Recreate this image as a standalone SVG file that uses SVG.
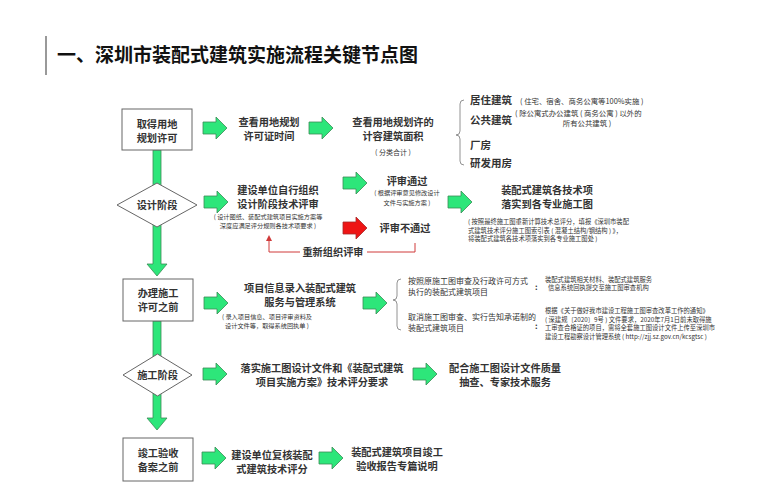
<svg xmlns="http://www.w3.org/2000/svg" xmlns:xlink="http://www.w3.org/1999/xlink" width="780" height="502" viewBox="0 0 780 502">
<style>
text{font-family:"Noto Sans CJK SC","Liberation Sans",sans-serif;fill:#333}
.t{font-size:10.2px;font-weight:bold;text-anchor:middle}
.tl{font-size:10.5px;font-weight:bold}
.s{font-size:6.2px;text-anchor:middle}
.sl{font-size:6.3px}
.m{font-size:8px}
.box{fill:#fff;stroke:#666;stroke-width:1}
.ga{fill:#2de67a;stroke:#3a8c55;stroke-width:0.8}
.ra{fill:#ee1515;stroke:#a52a2a;stroke-width:0.8}
.br{fill:none;stroke:#777;stroke-width:0.8}
</style>
<defs>
<path id="arr" d="M0,-6 H13 V-11 L24,0 L13,11 V6 H0 Z"/>
<marker id="rh" markerWidth="6" markerHeight="6" refX="3" refY="3" orient="auto" markerUnits="userSpaceOnUse">
<path d="M0,0 L6,3 L0,6 Z" fill="#d03a3a"/>
</marker>
</defs>
<rect width="780" height="502" fill="#fff"/>
<g id="title">
<line x1="46" y1="36" x2="46" y2="75" stroke="#555" stroke-width="1.2"/>
<text x="57" y="62" style="font-size:19px;font-weight:bold;fill:#111">一、深圳市装配式建筑实施流程关键节点图</text>
</g>
<g id="connectors">
<path class="ga" d="M153,150 H161 V264 H167 L157,276 L147,264 H153 Z"/>
<path class="ga" d="M153,321 H161 V418 H167 L157,430 L147,418 H153 Z"/>
<use href="#arr" class="ga" transform="translate(203,128)"/>
<use href="#arr" class="ga" transform="translate(309,128)"/>
<use href="#arr" class="ga" transform="translate(204,202)"/>
<use href="#arr" class="ga" transform="translate(343,183)"/>
<use href="#arr" class="ra" transform="translate(343,228)"/>
<use href="#arr" class="ga" transform="translate(448,202)"/>
<use href="#arr" class="ga" transform="translate(204,303)"/>
<use href="#arr" class="ga" transform="translate(363,303)"/>
<use href="#arr" class="ga" transform="translate(203,374)"/>
<use href="#arr" class="ga" transform="translate(413,374)"/>
<use href="#arr" class="ga" transform="translate(202,458)"/>
<use href="#arr" class="ga" transform="translate(319,458)"/>
<path d="M415,243 V252 H367 M300,252 H269 V238" fill="none" stroke="#d03a3a" stroke-width="1" marker-end="url(#rh)"/>
<text class="t" x="333" y="256">重新组织评审</text>
<path class="br" d="M464,100 Q460,100 460,104 V131 Q460,135 456,135 Q460,135 460,139 V161 Q460,165 464,165"/>
<path class="br" d="M401,279 Q397,279 397,283 V296 Q397,300 393,300 Q397,300 397,304 V326 Q397,330 401,330"/>
</g>
<g id="n1">
<rect class="box" x="122" y="109" width="70" height="41"/>
<text class="t" x="157" y="127.5">取得用地</text>
<text class="t" x="157" y="141.5">规划许可</text>
</g>
<g id="n1a">
<text class="t" x="269" y="125.5">查看用地规划</text>
<text class="t" x="269" y="139.5">许可证时间</text>
</g>
<g id="n1b">
<text class="t" x="393" y="125.5">查看用地规划许的</text>
<text class="t" x="393" y="139.5">计容建筑面积</text>
<text class="s" x="393" y="155" style="font-size:7px">( 分类合计 )</text>
</g>
<g id="n1c">
<text class="tl" x="470" y="104">居住建筑</text>
<text x="520" y="104" style="font-size:7.4px">( 住宅、宿舍、商务公寓等100%实施 )</text>
<text class="tl" x="470" y="124">公共建筑</text>
<text x="515" y="116" style="font-size:7.4px">( 除公寓式办公建筑 ( 商务公寓 ) 以外的</text>
<text x="587" y="126" style="font-size:7.4px;text-anchor:middle">所有公共建筑 )</text>
<text class="tl" x="470" y="149">厂房</text>
<text class="tl" x="470" y="167">研发用房</text>
</g>
<g id="n2">
<path class="box" d="M117,205 L157,183 L197,205 L157,227 Z"/>
<text class="t" x="157" y="209">设计阶段</text>
</g>
<g id="n2a">
<text class="t" x="278" y="193.5">建设单位自行组织</text>
<text class="t" x="278" y="207.5">设计阶段技术评审</text>
<text class="s" x="268" y="219">( 设计图纸、装配式建筑项目实施方案等</text>
<text class="s" x="268" y="227.5">深度应满足评分规则各技术项要求 )</text>
</g>
<g id="n2b">
<text class="t" x="407" y="185">评审通过</text>
<text class="s" x="407" y="195">( 根据评审意见修改设计</text>
<text class="s" x="407" y="204.5">文件与实施方案 )</text>
</g>
<g id="n2c">
<text class="t" x="405" y="232">评审不通过</text>
</g>
<g id="n2d">
<text class="t" x="547" y="193.5">装配式建筑各技术项</text>
<text class="t" x="547" y="207.5">落实到各专业施工图</text>
<text class="sl" x="468" y="224">( 按照最终施工图重新计算技术总评分，填报《深圳市装配</text>
<text class="sl" x="468" y="232.5">式建筑技术评分施工图索引表 ( 混凝土结构/钢结构 ) 》，</text>
<text class="sl" x="468" y="241">将装配式建筑各技术项落实到各专业施工图处 )</text>
</g>
<g id="n3">
<rect class="box" x="123" y="279" width="70" height="42"/>
<text class="t" x="158" y="296.5">办理施工</text>
<text class="t" x="158" y="310.5">许可之前</text>
</g>
<g id="n3a">
<text class="t" x="300" y="291.5">项目信息录入装配式建筑</text>
<text class="t" x="300" y="305.5">服务与管理系统</text>
<text class="s" x="267" y="319">( 录入项目信息、项目评审资料及</text>
<text class="s" x="267" y="328">设计文件等，取得系统回执单 )</text>
</g>
<g id="n3b">
<text class="m" x="408" y="284">按照原施工图审查及行政许可方式</text>
<text class="m" x="408" y="295">执行的装配式建筑项目</text>
<text class="m" x="535" y="290" style="font-weight:bold">:</text>
<text class="sl" x="545" y="281.5">装配式建筑相关材料、装配式建筑服务</text>
<text class="sl" x="548" y="290">信息系统回执提交至施工图审查机构</text>
</g>
<g id="n3c">
<text class="m" x="408" y="320">取消施工图审查、实行告知承诺制的</text>
<text class="m" x="408" y="331">装配式建筑项目</text>
<text class="m" x="535" y="329" style="font-weight:bold">:</text>
<text class="sl" x="545" y="313">根据《关于做好我市建设工程施工图审查改革工作的通知》</text>
<text class="sl" x="545" y="321.5">( 深建规〔2020〕9号 ) 文件要求，2020年7月1日前未取得施</text>
<text class="sl" x="545" y="330">工审查合格证的项目，需将全套施工图设计文件上传至深圳市</text>
<text class="sl" x="545" y="338.5">建设工程勘察设计管理系统 ( http://zjj.sz.gov.cn/kcsgtsc )</text>
</g>
<g id="n4">
<path class="box" d="M123,375 L157.5,354 L192,375 L157.5,396 Z"/>
<text class="t" x="157.5" y="379">施工阶段</text>
</g>
<g id="n4a">
<text class="t" x="322" y="371.5">落实施工图设计文件和《装配式建筑</text>
<text class="t" x="322" y="385.5">项目实施方案》技术评分要求</text>
</g>
<g id="n4b">
<text class="t" x="505" y="371.5">配合施工图设计文件质量</text>
<text class="t" x="505" y="385.5">抽查、专家技术服务</text>
</g>
<g id="n5">
<rect class="box" x="123" y="438" width="70" height="43"/>
<text class="t" x="158" y="456.5">竣工验收</text>
<text class="t" x="158" y="470.5">备案之前</text>
</g>
<g id="n5a">
<text class="t" x="272" y="458.5">建设单位复核装配</text>
<text class="t" x="272" y="472.5">式建筑技术评分</text>
</g>
<g id="n5b">
<text class="t" x="397" y="455.5">装配式建筑项目竣工</text>
<text class="t" x="397" y="469.5">验收报告专篇说明</text>
</g>
</svg>
